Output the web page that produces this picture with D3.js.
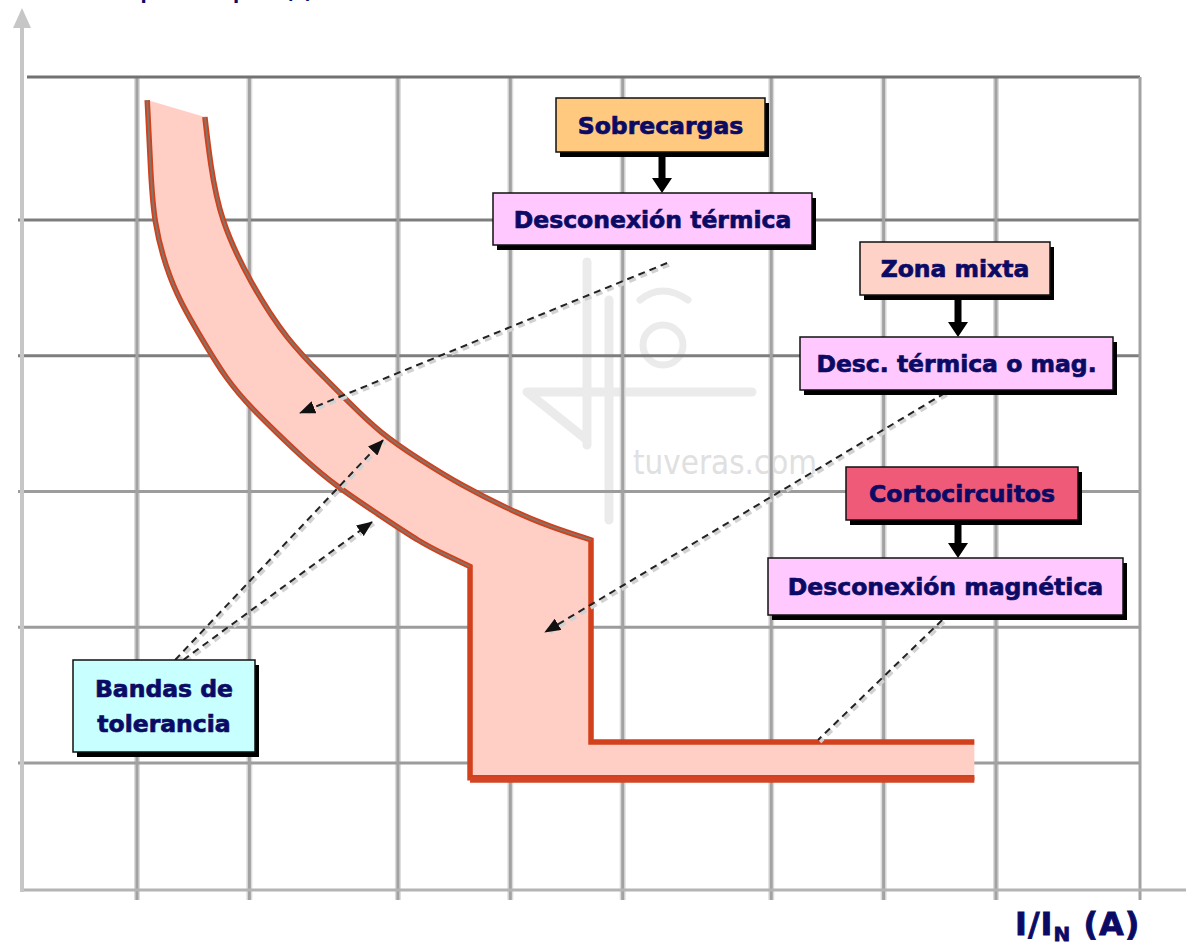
<!DOCTYPE html>
<html>
<head>
<meta charset="utf-8">
<script src="https://cdn.jsdelivr.net/npm/d3@7"></script>
<style>
  body { margin: 0; background: #fff; }
  svg { display: block; }
</style>
</head>
<body>
<div id="chart"></div>
<script>
// valores de la rejilla (escalas logaritmicas)
var xTicks = [2, 4, 10, 20, 40, 100, 200, 400];
var yTicks = [1000, 100, 10, 1, 0.1];

// borde izquierdo de la banda (I/In, t en s)
var curvaMinI = [2.13, 2.17, 2.21, 2.45, 2.72, 3.0, 3.48, 4.09, 4.74, 5.57, 6.87, 8.79, 11.5, 13.6, 15.6];
var curvaMinT = [7650, 2770, 950, 360, 205, 130, 66, 40, 27, 17.6, 10.8, 6.9, 4.2, 3.35, 2.8];
// borde derecho de la banda
var curvaMaxI = [3.04, 3.14, 3.34, 4.02, 5.04, 6.46, 7.3, 8.95, 11.5, 14.7, 20, 25.5, 32.9];
var curvaMaxT = [5740, 2630, 1000, 345, 130, 66, 47, 27, 17, 11.2, 7.3, 5.5, 4.4];
// zona magnetica
var magI = [15.6, 32.9];     // umbrales min / max
var magT = [0.078, 0.143];   // tiempos min / max
var iFinal = 350;

var cajas = ["Sobrecargas", "Desconexión térmica", "Zona mixta", "Desc. térmica o mag.", "Cortocircuitos", "Desconexión magnética"];
var cajasColor = ["#ffc980", "#ffc8ff", "#ffd2c8", "#ffc8ff", "#ef5a79", "#ffc8ff"];

// flechas discontinuas (inicio, fin en unidades de la grafica)
var flechasIni = [[52.6, 482], [292, 53.2], [287, 1.13], [2.53, 0.574], [2.66, 0.574]];
var flechasFin = [[5.47, 37.9], [24.8, 0.923], [133.5, 0.148], [9.12, 23.9], [8.52, 5.96]];
var flechasPunta = [true, true, false, true, true];

var width = 1186, height = 946;
var frame = { left: 22, right: 1140, top: 77, bottom: 890 };
var azul = "#0b0b66";

var svg = d3.select("#chart").append("svg")
  .attr("width", width)
  .attr("height", height);

var xScale = d3.scaleLog().domain([2, 400]).range([137, 996]);
var yScale = d3.scaleLog().domain([1000, 0.1]).range([220, 763]);

var defs = svg.append("defs");
defs.append("marker")
  .attr("id", "punta")
  .attr("viewBox", "0 0 16 13")
  .attr("refX", 15).attr("refY", 6.5)
  .attr("markerWidth", 16).attr("markerHeight", 13)
  .attr("markerUnits", "userSpaceOnUse")
  .attr("orient", "auto")
  .append("path")
  .attr("d", "M0,0 L16,6.5 L0,13 Z")
  .attr("fill", "#111");

// cortado arriba: titulo del eje vertical
svg.append("text")
  .attr("x", 91).attr("y", -1.5)
  .attr("font-family", "DejaVu Sans").attr("font-weight", "bold")
  .attr("font-size", 18).attr("fill", azul)
  .text("Tiempo de disparo (s)");

// marca de agua
var wm = svg.append("g").attr("stroke", "#ebebeb").attr("fill", "none")
  .attr("stroke-width", 9).attr("stroke-linecap", "round");
wm.append("path").attr("d", "M587,262 V445 M609,300 V520 M527,392 H752 M527,392 L587,440");
wm.append("circle").attr("cx", 663).attr("cy", 345).attr("r", 20).attr("stroke-width", 7);
wm.append("path").attr("d", "M640,300 Q662,282 688,300").attr("stroke-width", 7);
svg.append("text")
  .attr("x", 633).attr("y", 474)
  .attr("font-family", "DejaVu Sans").attr("font-size", 34)
  .attr("textLength", 184).attr("lengthAdjust", "spacingAndGlyphs")
  .attr("fill", "#e0e0e0")
  .text("tuveras.com");

// rejilla
var grid = svg.append("g");
grid.selectAll(".vgrid-halo")
  .data(xTicks).enter().append("line")
  .attr("x1", d => xScale(d)).attr("x2", d => xScale(d))
  .attr("y1", frame.top).attr("y2", frame.bottom + 10)
  .attr("stroke", "#dcdcdc").attr("stroke-width", 6);
grid.selectAll(".hgrid")
  .data(yTicks).enter().append("line")
  .attr("x1", frame.left - 4).attr("x2", frame.right)
  .attr("y1", d => yScale(d)).attr("y2", d => yScale(d))
  .attr("stroke", (d, i) => i < 2 ? "#7e7e7e" : "#9c9c9c").attr("stroke-width", 3);
grid.selectAll(".vgrid")
  .data(xTicks).enter().append("line")
  .attr("x1", d => xScale(d)).attr("x2", d => xScale(d))
  .attr("y1", frame.top).attr("y2", frame.bottom + 10)
  .attr("stroke", "#a2a2a2").attr("stroke-width", 3);

// marco
grid.append("line")
  .attr("x1", frame.left + 5).attr("x2", frame.right)
  .attr("y1", frame.top).attr("y2", frame.top)
  .attr("stroke", "#727272").attr("stroke-width", 3);
grid.append("line")
  .attr("x1", frame.right).attr("x2", frame.right)
  .attr("y1", frame.top).attr("y2", frame.bottom + 10)
  .attr("stroke", "#a2a2a2").attr("stroke-width", 3);
grid.append("line")
  .attr("x1", frame.left - 2).attr("x2", width)
  .attr("y1", frame.bottom).attr("y2", frame.bottom)
  .attr("stroke", "#b4b4b4").attr("stroke-width", 3);
grid.append("line")
  .attr("x1", frame.left).attr("x2", frame.left)
  .attr("y1", frame.bottom + 2).attr("y2", 24)
  .attr("stroke", "#c6c6c6").attr("stroke-width", 4);
grid.append("path")
  .attr("d", "M" + frame.left + ",8 L" + (frame.left - 9) + ",28 L" + (frame.left + 9) + ",28 Z")
  .attr("fill", "#c6c6c6");

// banda de disparo
var curva = d3.line()
  .x(d => xScale(d[0])).y(d => yScale(d[1]))
  .curve(d3.curveBasis);
var recta = d3.line()
  .x(d => xScale(d[0])).y(d => yScale(d[1]));

var ptsMin = curvaMinI.map((v, i) => [v, curvaMinT[i]]);
var ptsMax = curvaMaxI.map((v, i) => [v, curvaMaxT[i]]);
var colaMin = [ptsMin[ptsMin.length - 1], [magI[0], magT[0]], [iFinal, magT[0]]];
var colaMax = [ptsMax[ptsMax.length - 1], [magI[1], magT[1]], [iFinal, magT[1]]];

var dBanda = curva(ptsMin)
  + recta(colaMin.slice(1)).replace(/^M/, "L")
  + recta(colaMax.slice(1).reverse()).replace(/^M/, "L")
  + curva(ptsMax.slice().reverse()).replace(/^M/, "L") + "Z";

var band = svg.append("g");
band.append("path")
  .attr("d", dBanda)
  .attr("fill", "#ffcfc6");

[[ptsMin, colaMin], [ptsMax, colaMax]].forEach(function(p) {
  band.append("path")
    .attr("d", curva(p[0]) + recta(p[1]).replace(/^M/, "L"))
    .attr("fill", "none")
    .attr("stroke", "#d2401c")
    .attr("stroke-width", 5.5)
    .attr("stroke-linejoin", "miter");
  band.append("path")
    .attr("d", curva(p[0]))
    .attr("fill", "none")
    .attr("stroke", "#857468")
    .attr("stroke-width", 2);
});
band.append("line")
  .attr("x1", xScale(magI[0])).attr("x2", xScale(iFinal))
  .attr("y1", yScale(magT[0]) + 2).attr("y2", yScale(magT[0]) + 2)
  .attr("stroke", "#d34524").attr("stroke-width", 6);

// flechas discontinuas
var flechas = svg.append("g");
flechasIni.forEach(function(a, i) {
  var b = flechasFin[i];
  flechas.append("line")
    .attr("x1", xScale(a[0]) + 2).attr("y1", yScale(a[1]) + 2)
    .attr("x2", xScale(b[0]) + 2).attr("y2", yScale(b[1]) + 2)
    .attr("stroke", "#d2d2d2").attr("stroke-width", 3.5)
    .attr("stroke-dasharray", "7,5");
  flechas.append("line")
    .attr("x1", xScale(a[0])).attr("y1", yScale(a[1]))
    .attr("x2", xScale(b[0])).attr("y2", yScale(b[1]))
    .attr("stroke", "#222").attr("stroke-width", 2)
    .attr("stroke-dasharray", "7,5")
    .attr("marker-end", flechasPunta[i] ? "url(#punta)" : null);
});

// cajas de texto
var cajasPos = [[556, 98, 209, 54], [493, 193, 319, 52], [860, 242, 190, 53],
                [800, 337, 313, 53], [846, 467, 232, 53], [768, 558, 355, 57]];
var flechasCaja = [[662, 156, 193], [958, 299, 337], [958, 523, 558]];

function caja(x, y, w, h, color) {
  svg.append("rect")
    .attr("x", x + 4).attr("y", y + 5).attr("width", w).attr("height", h)
    .attr("fill", "#000");
  svg.append("rect")
    .attr("x", x).attr("y", y).attr("width", w).attr("height", h)
    .attr("fill", color).attr("stroke", "#111").attr("stroke-width", 1.5);
}

flechasCaja.forEach(function(f) {
  svg.append("path")
    .attr("d", "M" + (f[0] - 3.5) + "," + f[1] + " H" + (f[0] + 3.5) + " V" + (f[2] - 15)
      + " H" + (f[0] + 10) + " L" + f[0] + "," + f[2] + " L" + (f[0] - 10) + "," + (f[2] - 15)
      + " H" + (f[0] - 3.5) + " Z")
    .attr("fill", "#000");
});

cajas.forEach(function(t, i) {
  var p = cajasPos[i];
  caja(p[0], p[1], p[2], p[3], cajasColor[i]);
  svg.append("text")
    .attr("x", p[0] + p[2] / 2).attr("y", p[1] + p[3] / 2 + 8.5)
    .attr("text-anchor", "middle")
    .attr("font-family", "DejaVu Sans").attr("font-weight", "bold")
    .attr("font-size", 23.5).attr("fill", azul)
    .attr("stroke", azul).attr("stroke-width", 0.7)
    .text(t);
});

caja(73, 660, 182, 92, "#c8ffff");
svg.append("text")
  .attr("text-anchor", "middle")
  .attr("font-family", "DejaVu Sans").attr("font-weight", "bold")
  .attr("font-size", 23.5).attr("fill", azul)
  .attr("stroke", azul).attr("stroke-width", 0.7)
  .selectAll("tspan").data(["Bandas de", "tolerancia"]).enter().append("tspan")
  .attr("x", 164).attr("y", (d, i) => 697 + i * 35)
  .text(d => d);

// titulo eje x
var tx = svg.append("text")
  .attr("x", 1015).attr("y", 935)
  .attr("font-family", "DejaVu Sans").attr("font-weight", "bold")
  .attr("font-size", 32).attr("fill", azul)
  .attr("stroke", azul).attr("stroke-width", 0.8)
  .attr("letter-spacing", 1);
tx.append("tspan").text("I/I");
tx.append("tspan").attr("font-size", 20).attr("dy", 6).text("N");
tx.append("tspan").attr("dy", -6).text(" (A)");
</script>
</body>
</html>
